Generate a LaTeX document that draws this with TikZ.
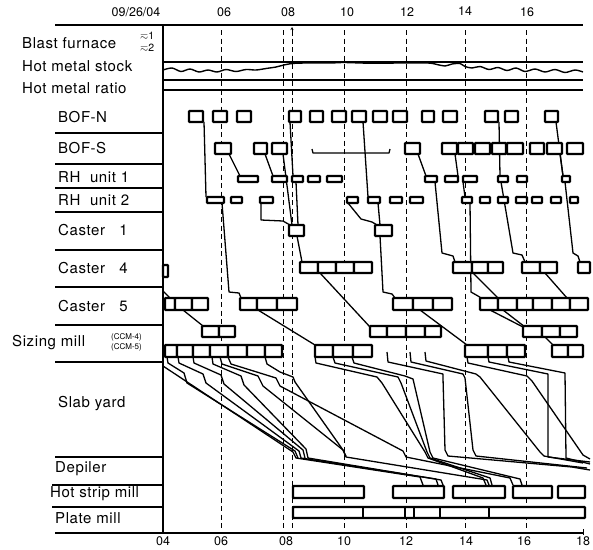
\documentclass[tikz,border=0pt]{standalone}
\usepackage{amssymb}
\usepackage{fontspec}
\setmainfont{TeX Gyre Heros}
\usetikzlibrary{arrows.meta}
\newcommand\bxrow[3]{\foreach \a/\b in {#3} \draw[bx] (\a,#1) rectangle (\b,#2);}
\begin{document}
\begin{tikzpicture}[x=1pt,y=-1pt,
  frm/.style={line width=2.6pt},
  bx/.style={line width=2.2pt, fill=white, rounded corners=0.6pt},
  cn/.style={line width=1.3pt, line join=round},
  dsh/.style={line width=0.8pt, dash pattern=on 5pt off 3.5pt},
  lab/.style={anchor=west, inner sep=0pt, font=\fontsize{15}{15}\selectfont\addfontfeature{LetterSpace=4}},
  tim/.style={inner sep=0pt, font=\fontsize{12.5}{12.5}\selectfont},
  sml/.style={inner sep=0pt, font=\fontsize{8}{8}\selectfont},
  sym/.style={inner sep=0pt, anchor=west, font=\fontsize{10.5}{10.5}\selectfont}]
\useasboundingbox (0,0) rectangle (593,549);
% time labels
\node[tim] (t0) at (136,12) {09/26/04};
\node[tim] (t6) at (224,12) {06};
\node[tim] (t8) at (288,12) {08};
\node[tim] (t10) at (347,12) {10};
\node[tim] (t12) at (407,12) {12};
\node[tim] (t14) at (465,11) {14};
\node[tim] (t16) at (527,12) {16};
\node[tim] (b4) at (163,541) {04};
\node[tim] (b6) at (221,541) {06};
\node[tim] (b8) at (286,541) {08};
\node[tim] (b10) at (344,541) {10};
\node[tim] (b12) at (406,541) {12};
\node[tim] (b14) at (466,541) {14};
\node[tim] (b16) at (524,541) {16};
\node[tim] (b18) at (583,541) {18};
% dashed time lines
\foreach \x in {221,283,292,344,406,465,526} \draw[dsh] (\x,30) -- (\x,530);
\draw[line width=0.8pt,-{Stealth[length=3pt,width=3pt]}] (292,36) -- (292,27);
% frame
\draw[frm] (55,25) -- (583,25);
\draw[frm] (163,25) -- (163,533);
\draw[frm] (55,533) -- (583,533);
\draw[line width=0.8pt] (583,529) -- (583,535);
\draw[frm] (163,62) -- (583,62);
\draw[line width=1.5pt] (163,80) -- (583,80);
\draw[line width=1.5pt] (163,90) -- (583,90);
\foreach \y in {133,164,188,212,250,287,325,362,457} \draw[frm] (55,\y) -- (163,\y);
\foreach \y in {485,507} \draw[frm] (52,\y) -- (163,\y);
% hot metal stock
\draw[line width=1.4pt] plot[smooth] coordinates {(163,70) (172,68) (181,71.5) (190,69) (199,72) (208,70) (217,72) (226,69.5) (236,71.5) (246,69.5) (256,70) (266,68.5) (276,67) (284,65) (292,63.5) (305,63) (330,63) (344,62.5) (370,63.2) (400,63) (428,63) (437,64.5) (445,66) (452,64) (460,63.5) (465,66.5) (472,68) (480,66.5) (489,69.5) (498,67.5) (507,70.5) (516,68) (525,71.5) (535,69) (545,72) (555,69.5) (565,72.5) (575,70) (583,72)};
% labels
\node[lab] (lbf) at (22,43) {Blast furnace};
\node[sym] (lbf1) at (140,36) {$\eqsim$1};
\node[sym] (lbf2) at (140,48) {$\eqsim$2};
\node[lab] (lhs) at (22,66) {Hot metal stock};
\node[lab] (lhr) at (22,88) {Hot metal ratio};
\node[lab] (lbn) at (58,117) {BOF-N};
\node[lab] (lbs) at (58,148) {BOF-S};
\node[lab] (lr1) at (58,177) {RH\ \ unit 1};
\node[lab] (lr2) at (58,200) {RH\ \ unit 2};
\node[lab] (lc1) at (58,230) {Caster\ \ \ 1};
\node[lab] (lc4) at (58,268) {Caster\ \ \ 4};
\node[lab] (lc5) at (58,306) {Caster\ \ \ 5};
\node[lab] (lsm) at (12,343) {Sizing\ mill};
\node[sml, anchor=west] (ls4) at (111,337) {(CCM-4)};
\node[sml, anchor=west] (ls5) at (111,347) {(CCM-5)};
\node[lab] (lsy) at (58,404) {Slab\ yard};
\node[lab] (ldp) at (55,469) {Depiler};
\node[lab] (lhsm) at (50,494) {Hot strip\ mill};
\node[lab] (lpm) at (55,518) {Plate\ mill};
% connectors
\draw[cn] (204,122) -- (206,197);
\draw[cn] (222,203) -- (229,292) -- (239,293) -- (241,298);
\draw[cn] (229,154) -- (240,176);
\draw[cn] (265,154) -- (273,176);
\draw[cn] (283,154) -- (292,225);
\draw[cn] (290,122) -- (293,176);
\draw[cn] (296,182) -- (298,225);
\draw[cn] (261,203) -- (261,220) -- (283,221) -- (290,225);
\draw[cn] (297,236) -- (302,262);
\draw[cn] (320,273) -- (370,327);
\draw[cn] (183,310) -- (203,326);
\draw[cn] (163,291) -- (170,298);
\draw[cn] (258,310) -- (315,345);
\draw[cn] (363,122) -- (368,197);
\draw[cn] (378,203) -- (380,225);
\draw[cn] (380,236) -- (383,292) -- (392,294) -- (395,298);
\draw[cn] (348,203) -- (361,219) -- (372,222) -- (377,225);
\draw[cn] (420,310) -- (467,345);
\draw[cn] (418,154) -- (426,176);
\draw[cn] (455,154) -- (458,176);
\draw[cn] (499,122) -- (500,176);
\draw[cn] (556,122) -- (563,176);
\draw[cn] (560,154) -- (563,176);
\draw[cn] (435,182) -- (442,253) -- (453,256) -- (455,262);
\draw[cn] (463,182) -- (465,197);
\draw[cn] (470,203) -- (471,292) -- (478,296) -- (481,298);
\draw[cn] (473,273) -- (498,298);
\draw[cn] (501,182) -- (513,253) -- (522,255) -- (525,262);
\draw[cn] (565,182) -- (573,253) -- (578,256) -- (580,262);
\draw[cn] (545,273) -- (567,298);
\draw[cn] (490,310) -- (523,327);
\draw[cn] (503,310) -- (525,327);
\draw[cn] (545,337) -- (553,345);
\draw[cn] (312,149) -- (313,153) -- (389,153) -- (390,149);
% slab yard / depiler
\draw[cn] (163,366) -- (293,452) -- (296,458) -- (420,477) -- (423,485);
\draw[cn] (167,357) -- (168,363) -- (184,373) -- (187,383) -- (295,451) -- (298,458);
\draw[cn] (178,357) -- (179,363) -- (203,374) -- (206,383) -- (299,451) -- (301,458) -- (436,479) -- (438,485);
\draw[cn] (193,357) -- (194,363) -- (221,375) -- (224,384) -- (303,450) -- (305,458);
\draw[cn] (212,357) -- (213,364) -- (241,376) -- (244,385) -- (306,449) -- (308,458) -- (441,480) -- (443,485);
\draw[cn] (220,357) -- (222,364) -- (258,376) -- (263,386) -- (343,450) -- (346,457) -- (487,480) -- (489,485);
\draw[cn] (228,357) -- (231,364) -- (276,378) -- (280,386) -- (403,451) -- (406,457) -- (510,478) -- (513,485);
\draw[cn] (265,357) -- (267,364) -- (280,372) -- (293,377) -- (295,382) -- (343,450) -- (346,456);
\draw[cn] (315,357) -- (316,363) -- (377,377) -- (382,383) -- (425,452) -- (428,458) -- (483,478) -- (486,485);
\draw[cn] (333,357) -- (335,363) -- (398,377) -- (401,383) -- (427,452) -- (430,458) -- (490,478) -- (492,485);
\draw[cn] (352,357) -- (354,363) -- (405,376) -- (413,379) -- (430,452) -- (433,458) -- (520,479) -- (522,485);
\draw[cn] (387,352) -- (388,362) -- (443,374) -- (443,378) -- (445,450) -- (448,456) -- (572,467) -- (590,470);
\draw[cn] (410,352) -- (411,362) -- (463,374) -- (465,378) -- (473,450) -- (476,456) -- (587,468);
\draw[cn] (425,352) -- (426,361) -- (476,374) -- (480,377) -- (540,452) -- (544,456) -- (583,463);
\draw[cn] (467,357) -- (468,363) -- (527,376) -- (532,381) -- (583,455) -- (590,459);
\draw[cn] (488,357) -- (489,362) -- (548,374) -- (548,457) -- (590,462);
\draw[cn] (508,357) -- (509,362) -- (565,373) -- (566,458) -- (590,464);
% boxes
\bxrow{111}{122}{189/203,213/227,237/251,289/301,310/323,332/346,352/366,373/387,393/407,422/434,443/457,485/498,505/518,545/558}
\bxrow{143}{154}{215/231,254/267,272/287,405/420,442/457,458/473,475/490,492/506,507/523,530/544,547/562,567/583}
\bxrow{176}{182}{238/258,272/287,292/303,308/320,327/342,425/437,445/458,463/477,498/508,517/527,562/570}
\bxrow{197}{203}{207/224,231/242,260/273,347/358,368/380,390/402,410/423,462/472,480/490,498/508,516/527,532/542,551/561,570/578}
\bxrow{225}{236}{289/304,375/392}
\bxrow{262}{273}{300/318,318/336,336/354,354/372,453/472,472/488,488/503,522/540,540/557,578/590}
\bxrow{265}{277}{163/168}
\bxrow{298}{310}{165/175,175/192,192/208,240/257,257/277,277/297,393/413,413/433,433/452,480/498,498/517,517/533,533/552,552/570,570/588}
\bxrow{326}{337}{202/219,219/235,370/387,387/406,406/425,425/441,523/542,542/560,560/577}
\bxrow{345}{357}{165/177,177/193,193/210,210/228,228/247,247/265,265/282,315/333,333/353,353/372,465/488,488/507,507/525,552/568,568/583}
\bxrow{486}{498}{293/364,393/444,453/505,513/552,558/585}
\draw[bx] (293,507) rectangle (585,518);
\foreach \x in {363,405,414,440,489} \draw[line width=1.5pt] (\x,507) -- (\x,518);
\end{tikzpicture}
\end{document}
